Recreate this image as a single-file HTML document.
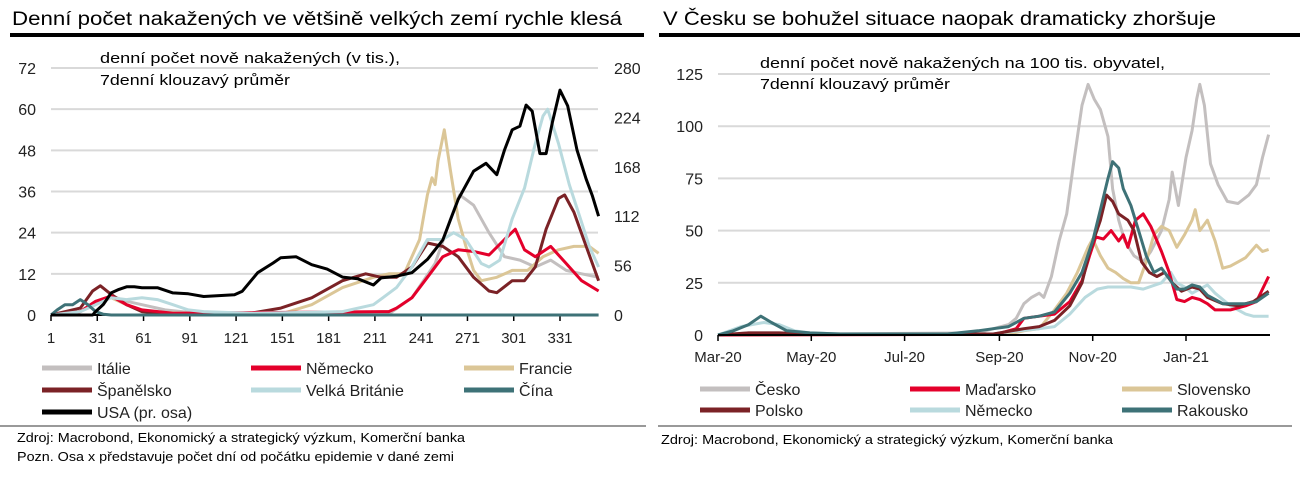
<!DOCTYPE html>
<html><head><meta charset="utf-8"><style>
body{margin:0;background:#fff;}
svg{display:block;font-family:"Liberation Sans",sans-serif;}
</style></head><body>
<svg id="c" width="1312" height="478" viewBox="0 0 1312 478">
<text x="12" y="25" font-size="19" textLength="610" lengthAdjust="spacingAndGlyphs">Denní počet nakažených ve většině velkých zemí rychle klesá</text>
<rect x="10" y="33" width="634" height="4" fill="#000"/>
<text x="663" y="25" font-size="19" textLength="553" lengthAdjust="spacingAndGlyphs">V Česku se bohužel situace naopak dramaticky zhoršuje</text>
<rect x="659" y="33" width="641" height="4" fill="#000"/>
<text x="100" y="63" font-size="15" textLength="300" lengthAdjust="spacingAndGlyphs">denní počet nově nakažených (v tis.),</text>
<text x="100" y="85" font-size="15" textLength="190" lengthAdjust="spacingAndGlyphs">7denní klouzavý průměr</text>
<text x="760" y="68" font-size="15" textLength="405" lengthAdjust="spacingAndGlyphs">denní počet nově nakažených na 100 tis. obyvatel,</text>
<text x="760" y="89" font-size="15" textLength="190" lengthAdjust="spacingAndGlyphs">7denní klouzavý průměr</text>
<g id="L"></g><g id="R"></g>
<rect x="0" y="425" width="646" height="2" fill="#999"/>
<rect x="658" y="425" width="634" height="2" fill="#999"/>
<text x="17" y="442" font-size="13" textLength="448" lengthAdjust="spacingAndGlyphs">Zdroj: Macrobond, Ekonomický a strategický výzkum, Komerční banka</text>
<text x="17" y="461" font-size="13" textLength="437" lengthAdjust="spacingAndGlyphs">Pozn. Osa x představuje počet dní od počátku epidemie v dané zemi</text>
<text x="661" y="444" font-size="13" textLength="452" lengthAdjust="spacingAndGlyphs">Zdroj: Macrobond, Ekonomický a strategický výzkum, Komerční banka</text>
</svg>
<script>
// ---- Left chart data (day, value) ----
const leftTicksY = [0,12,24,36,48,60,72];
const leftTicksY2 = [0,56,112,168,224,280];
const leftTicksX = [1,31,61,91,121,151,181,211,241,271,301,331];
const italie = [[1,0],[20,1],[30,4],[40,5.5],[50,4],[60,3],[75,1.5],[100,0.3],[220,0.3],[235,5],[250,15],[260,28],[266,35],[275,32],[285,24],[295,17],[305,16],[315,14],[325,16],[335,13],[345,12],[356,11]];
const nemecko = [[1,0],[20,1],[30,4],[40,5.5],[50,3],[60,1.5],[80,0.5],[220,1],[225,2],[235,5],[245,11],[255,17],[265,19],[275,18.5],[285,17.5],[295,22],[302,25],[308,19],[315,17],[325,20],[335,15],[345,10],[356,7]];
const francie = [[1,0],[20,1],[30,4],[40,5],[50,3],[60,1],[100,0.3],[150,0.3],[170,3],[190,8],[210,11],[220,12],[230,12],[240,22],[245,35],[248,40],[250,38],[252,45],[256,54],[260,42],[265,28],[270,20],[275,13],[280,10],[290,11],[300,13],[310,13],[320,17],[330,19],[340,20],[350,20],[356,18]];
const spanelsko = [[1,0],[20,2],[28,7],[33,8.5],[40,6],[50,3],[60,1],[80,0.3],[130,0.5],[150,2],[170,5],[190,10],[205,12],[215,11],[225,11],[235,14],[245,21],[255,20],[265,17],[275,11],[285,7],[290,6.5],[300,10],[308,10],[315,14],[322,25],[330,34],[334,35],[340,30],[348,20],[356,10]];
const britanie = [[1,0],[20,1],[30,3],[40,5],[50,4.5],[60,5],[70,4.5],[80,3],[90,1.5],[100,1],[130,0.5],[170,0.8],[190,1],[210,3],[225,8],[235,14],[245,22],[255,22],[262,24],[270,22],[280,15],[285,14],[292,16],[300,28],[308,37],[315,50],[320,58],[323,60],[330,50],[337,38],[345,27],[350,20],[356,14]];
const cina = [[1,0],[5,1.5],[10,3],[15,3],[20,4.5],[25,3],[30,1],[35,0.2],[40,0],[356,0]];
const usa = [[1,0],[28,0],[30,4],[35,12],[40,25],[45,29],[50,32],[55,32],[60,31],[70,31],[80,25],[90,24],[100,21],[110,22],[120,23],[125,27],[135,48],[145,59],[150,65],[160,66],[170,57],[180,52],[190,43],[200,41],[210,34],[215,42],[225,44],[235,48],[245,63],[255,85],[265,131],[275,163],[283,172],[290,159],[295,187],[300,210],[305,214],[309,238],[313,231],[318,183],[322,183],[326,218],[331,255],[336,237],[342,187],[348,154],[352,135],[356,112]];
// ---- Right chart data (days since 1 Mar 2020, value) ----
const rightTicksY = [0,25,50,75,100,125];
const rightTickLabels = ["Mar-20","May-20","Jul-20","Sep-20","Nov-20","Jan-21"];
const rightTickDays = [0,61,122,184,245,306];
const cesko = [[0,0],[20,1],[40,1],[60,0.5],[170,1],[180,3],[190,5],[195,8],[200,15],[205,18],[210,20],[213,18],[218,28],[223,45],[228,58],[233,85],[238,110],[242,120],[246,113],[250,108],[255,95],[258,70],[262,55],[266,45],[272,38],[278,35],[283,40],[290,50],[295,65],[297,78],[301,62],[306,85],[310,98],[313,113],[315,120],[318,110],[322,82],[327,72],[333,64],[340,63],[347,67],[352,72],[356,85],[360,96]];
const madarsko = [[0,0],[180,0.3],[185,1],[195,3],[200,8],[210,9],[220,10],[230,16],[238,26],[243,38],[247,47],[252,46],[257,50],[262,45],[265,48],[268,42],[273,55],[278,58],[283,52],[290,40],[295,30],[300,17],[305,16],[310,18],[315,17],[320,15],[325,12],[335,12],[345,14],[352,16],[356,22],[360,28]];
const slovensko = [[0,0],[190,0.5],[200,2],[210,3],[220,12],[228,20],[235,30],[242,42],[245,46],[250,38],[255,32],[260,30],[265,27],[270,25],[275,25],[280,35],[285,48],[290,52],[295,50],[300,42],[305,48],[310,55],[312,60],[315,50],[320,55],[325,45],[330,32],[335,33],[340,35],[345,37],[352,43],[356,40],[360,41]];
const polsko = [[0,0],[20,1],[40,1],[60,0.5],[180,0.5],[200,3],[210,4],[220,7],[230,14],[238,25],[243,40],[250,55],[254,67],[258,64],[262,58],[268,55],[272,50],[277,35],[282,30],[287,28],[292,30],[297,25],[303,21],[310,23],[315,22],[320,18],[330,15],[340,14],[350,16],[360,21]];
const nemecko2 = [[0,0],[15,4],[30,6],[40,5],[50,2],[60,1],[80,0.5],[180,0.5],[190,1.5],[210,3],[220,4],[230,10],[240,18],[248,22],[255,23],[270,23],[278,22],[290,25],[296,30],[300,25],[305,23],[310,20],[315,22],[320,24],[325,20],[335,14],[345,10],[350,9],[360,9]];
const rakousko = [[0,0],[10,2],[20,5],[28,9],[35,6],[45,2],[60,1],[80,0.5],[150,0.5],[170,2],[180,3],[190,4],[200,8],[210,9],[220,11],[230,20],[238,30],[245,45],[250,60],[255,75],[258,83],[262,80],[265,70],[270,62],[275,50],[280,38],[285,30],[290,32],[295,27],[300,22],[305,22],[310,24],[315,23],[320,19],[325,17],[330,15],[345,15],[352,16],[360,20]];

const NS="http://www.w3.org/2000/svg";
function mk(tag,attrs,parent,txt){const e=document.createElementNS(NS,tag);for(const k in attrs)e.setAttribute(k,attrs[k]);if(txt!==undefined)e.textContent=txt;parent.appendChild(e);return e;}
const C={gray:"#c3bfbf",red:"#e4002b",tan:"#dbc697",dred:"#7b2226",lblue:"#b9dade",teal:"#3e7277",black:"#000"};

// Left scales
const lx=d=>51+(d-1)*(560-51)/330;
const ly=v=>315-v*(315-68)/72;
const ly2=v=>315-v*(315-68)/280;
const L=document.getElementById('L');
leftTicksY.forEach((t,i)=>{
  if(t>0){const g=mk('line',{x1:51,x2:598,y1:ly(t),y2:ly(t),stroke:"#d9d9d9","stroke-width":2},L);
  
  }
  const tx=mk('text',{x:36,y:ly(t)+6,"font-size":16,"text-anchor":"end",fill:"#222"},L,t);
  
  
});
leftTicksY2.forEach(t=>{
  const tx=mk('text',{x:614,y:ly2(t)+6,"font-size":16,fill:"#222"},L,t);
  
  
});
const la=mk('line',{x1:51,x2:598,y1:315,y2:315,stroke:"#000","stroke-width":2},L);


leftTicksX.forEach(t=>{
  const tk=mk('line',{x1:lx(t),x2:lx(t),y1:315,y2:321,stroke:"#000","stroke-width":1.5},L);
  
  
  const tx=mk('text',{x:lx(t),y:343,"font-size":15,"text-anchor":"middle",fill:"#222"},L,t);
  
  
});
function line(par,data,xf,yf,color,name){
  const p=mk('polyline',{points:data.map(d=>xf(d[0]).toFixed(1)+","+yf(d[1]).toFixed(1)).join(" "),fill:"none",stroke:color,"stroke-width":3,"stroke-linejoin":"round"},par);
  
  
}
line(L,italie,lx,ly,C.gray,'line-italie');
line(L,francie,lx,ly,C.tan,'line-francie');
line(L,spanelsko,lx,ly,C.dred,'line-spanelsko');
line(L,nemecko,lx,ly,C.red,'line-nemecko');
line(L,britanie,lx,ly,C.lblue,'line-velka-britanie');
line(L,cina,lx,ly,C.teal,'line-cina');
line(L,usa,lx,ly2,C.black,'line-usa');

function legend(par,x,y,color,label,name,len){
  const g=mk('g',{},par);
  
  
  mk('line',{x1:x,x2:x+50,y1:y,y2:y,stroke:color,"stroke-width":5},g);
  mk('text',{x:x+55,y:y+6,"font-size":16,fill:"#222"},g,label);
}
legend(L,42,368,C.gray,"Itálie",'legend-italie');
legend(L,251,368,C.red,"Německo",'legend-nemecko');
legend(L,464,368,C.tan,"Francie",'legend-francie');
legend(L,42,390,C.dred,"Španělsko",'legend-spanelsko');
legend(L,251,390,C.lblue,"Velká Británie",'legend-velka-britanie');
legend(L,464,390,C.teal,"Čína",'legend-cina');
legend(L,42,412,C.black,"USA (pr. osa)",'legend-usa');

// Right scales
const rx=d=>718+d*(1186-718)/306;
const ry=v=>335-v*(335-74)/125;
const R=document.getElementById('R');
rightTicksY.forEach(t=>{
  if(t>0){const g=mk('line',{x1:718,x2:1270,y1:ry(t),y2:ry(t),stroke:"#d9d9d9","stroke-width":2},R);
  
  }
  const tx=mk('text',{x:703,y:ry(t)+6,"font-size":16,"text-anchor":"end",fill:"#222"},R,t);
  
  
});
line(R,cesko,rx,ry,C.gray,'line-cesko');
line(R,slovensko,rx,ry,C.tan,'line-slovensko');
line(R,nemecko2,rx,ry,C.lblue,'line-nemecko-r');
line(R,madarsko,rx,ry,C.red,'line-madarsko');
line(R,polsko,rx,ry,C.dred,'line-polsko');
line(R,rakousko,rx,ry,C.teal,'line-rakousko');
const ra=mk('line',{x1:718,x2:1270,y1:335,y2:335,stroke:"#000","stroke-width":2},R);


rightTickDays.forEach((d,i)=>{
  const tk=mk('line',{x1:rx(d),x2:rx(d),y1:335,y2:341,stroke:"#000","stroke-width":1.5},R);
  
  
  const tx=mk('text',{x:rx(d),y:362,"font-size":15,"text-anchor":"middle",fill:"#222"},R,rightTickLabels[i]);
  
  
});
legend(R,700,389,C.gray,"Česko",'legend-cesko');
legend(R,910,389,C.red,"Maďarsko",'legend-madarsko');
legend(R,1122,389,C.tan,"Slovensko",'legend-slovensko');
legend(R,700,410,C.dred,"Polsko",'legend-polsko');
legend(R,910,410,C.lblue,"Německo",'legend-nemecko-r');
legend(R,1122,410,C.teal,"Rakousko",'legend-rakousko');
</script>
</body></html>
